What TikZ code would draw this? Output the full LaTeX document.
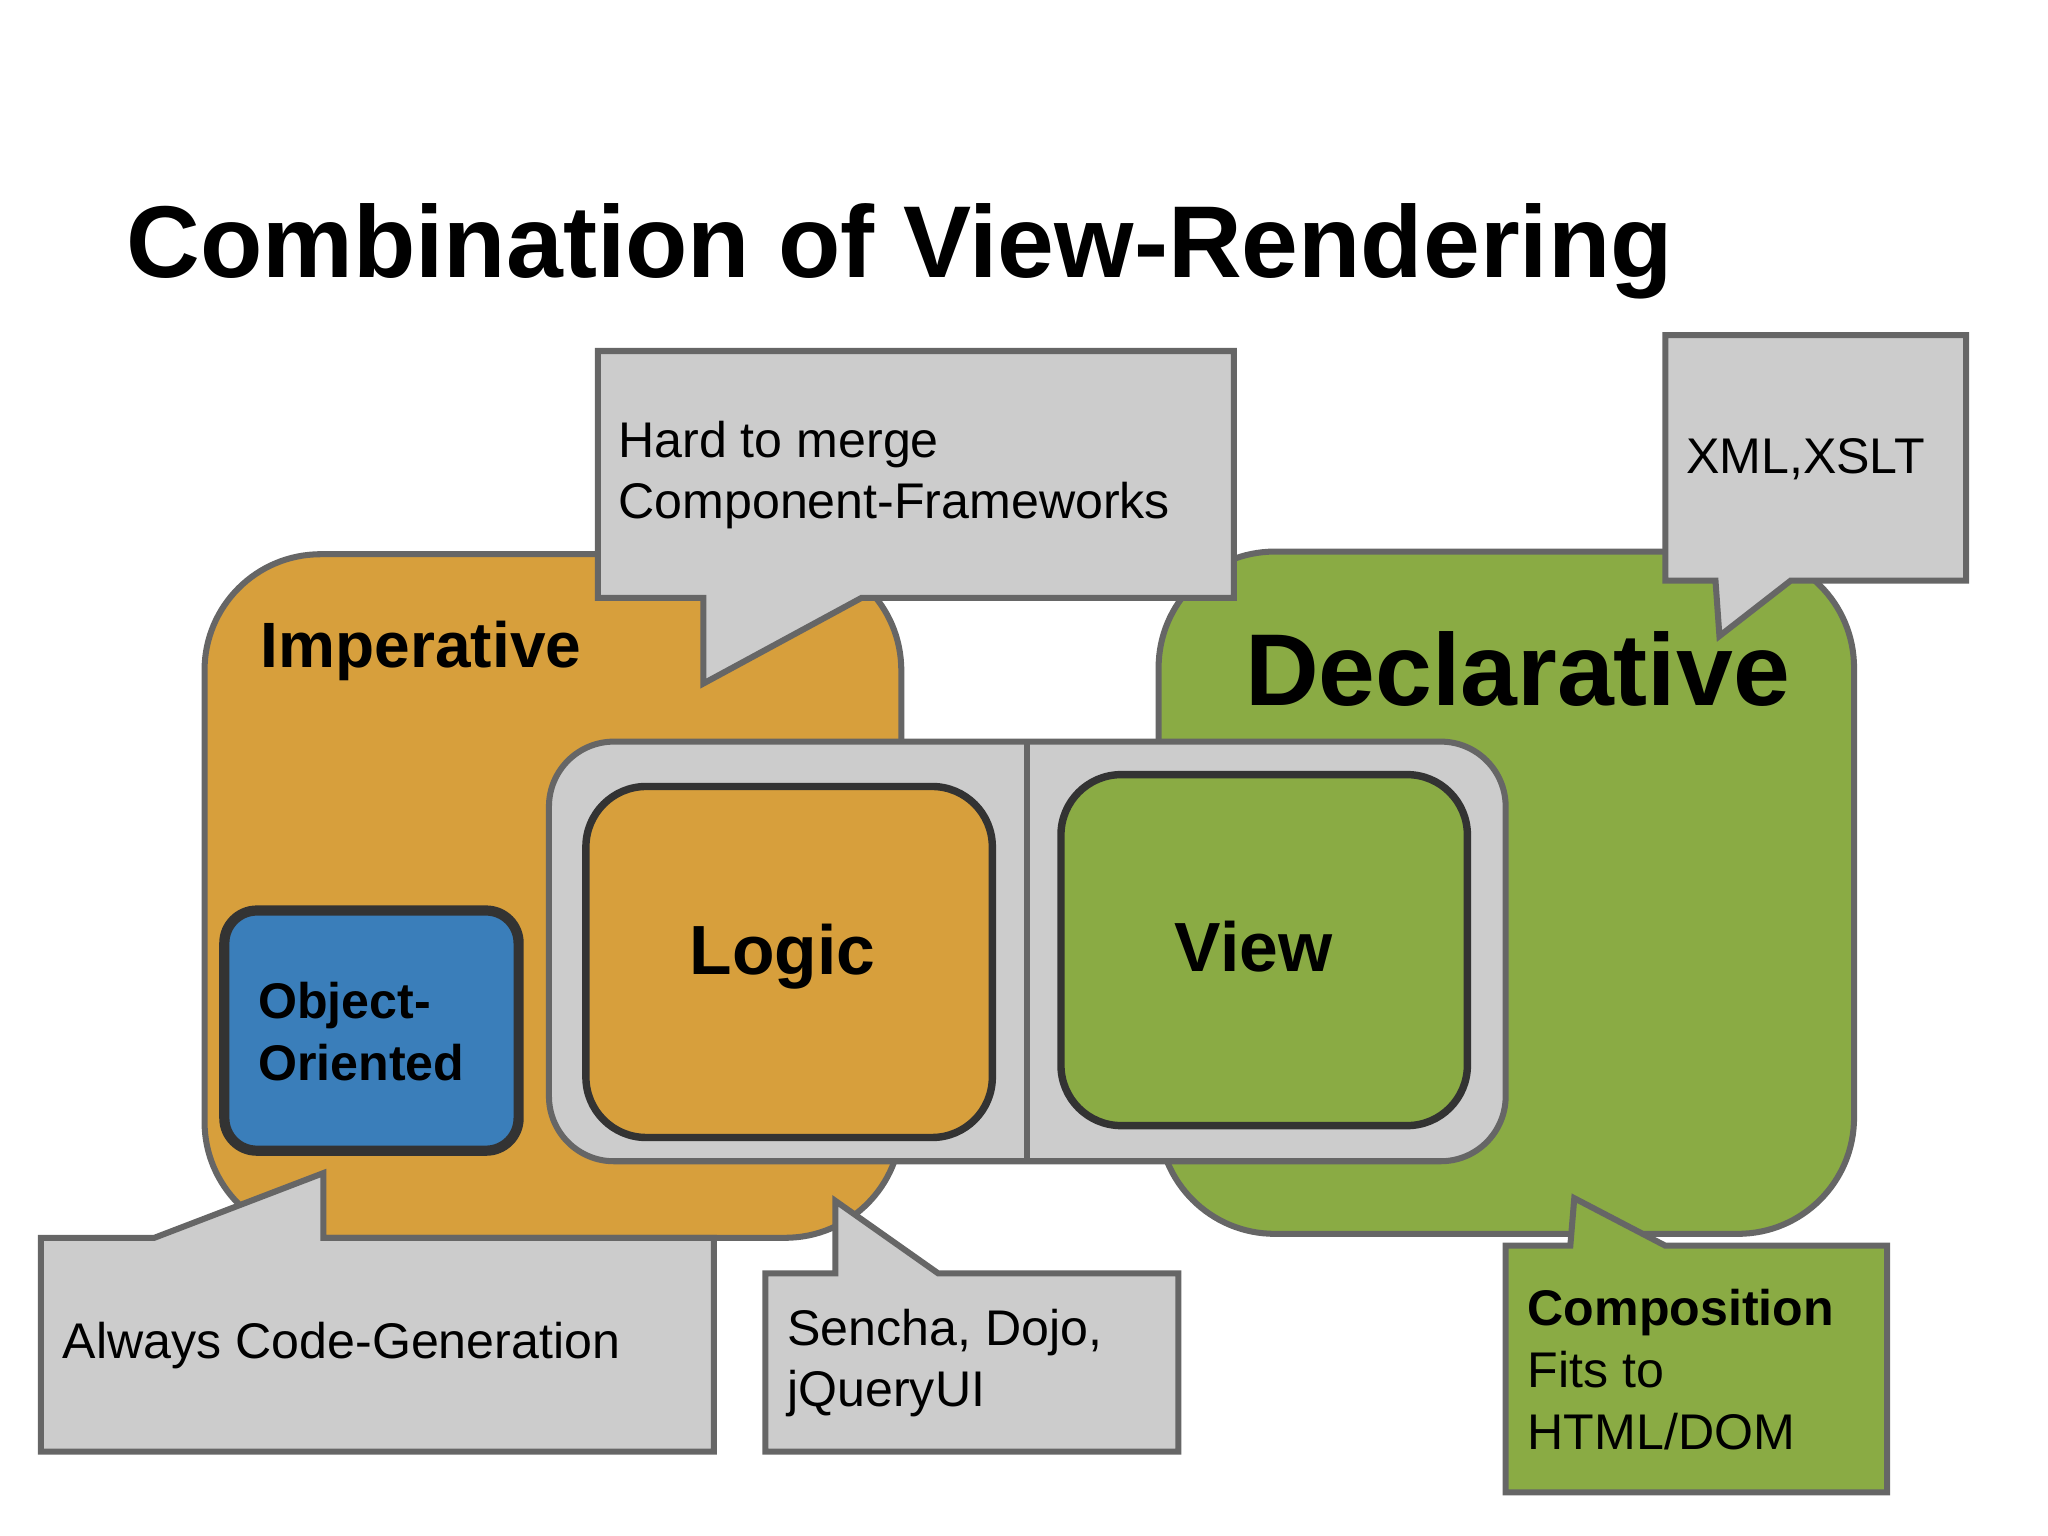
\documentclass[tikz,border=0pt]{standalone}
\usepackage{fontspec}
\setmainfont{Liberation Sans}
\begin{document}
\begin{tikzpicture}[x=0.01cm,y=-0.01cm,
  edge/.style={draw=black!60,line width=1.3pt},
  call/.style={edge,fill=black!20},
  txt/.style={anchor=west,inner sep=0,font=\fontsize{10.8}{13}\selectfont}]
\definecolor{or}{HTML}{D79F3C}
\definecolor{gr}{HTML}{8AAB44}
\definecolor{bl}{HTML}{3A7EBA}
\useasboundingbox (0,0) rectangle (1552,1164);
\node[anchor=base west,inner sep=0,font=\bfseries\fontsize{22}{26}\selectfont] (title) at (95,210) {Combination of View-Rendering};
% big boxes
\draw[edge,fill=or,rounded corners=25pt] (155,420) rectangle (683,938);
\draw[edge,fill=gr,rounded corners=25pt] (878,418) rectangle (1405,935);
% center container
\draw[edge,fill=black!20,rounded corners=14pt] (416,562) rectangle (1141,880);
\draw[edge] (778,562) -- (778,880);
\draw[draw=black!80,line width=1.6pt,fill=or,rounded corners=13pt] (444,596) rectangle (752,862);
\draw[draw=black!80,line width=1.6pt,fill=gr,rounded corners=13pt] (804,587) rectangle (1112,853);
\draw[draw=black!80,line width=2.2pt,fill=bl,rounded corners=7pt] (170,690) rectangle (393,872);
\node[font=\bfseries\fontsize{13.8}{16}\selectfont,anchor=west,inner sep=0] (imp) at (197,493) {Imperative};
\node[font=\bfseries\fontsize{22}{26}\selectfont,inner sep=0] (dec) at (1150,507) {Declarative};
\node[font=\bfseries\fontsize{15}{18}\selectfont,inner sep=0] (logic) at (593,725) {Logic};
\node[font=\bfseries\fontsize{15}{18}\selectfont,inner sep=0] (view) at (950,717) {View};
\node[anchor=west,inner sep=0,align=left,font=\bfseries\fontsize{10.8}{13.3}\selectfont] (oo) at (195,782) {Object-\\Oriented};
% callouts
\draw[call] (453,266) -- (935,266) -- (935,453) -- (653,453) -- (533,518) -- (533,453) -- (453,453) -- cycle;
\node[txt,align=left,font=\fontsize{10.8}{13.3}\selectfont] (c1) at (468,360) {Hard to merge\\Component-Frameworks};
\draw[call] (1262,254) -- (1490,254) -- (1490,440) -- (1357,440) -- (1303,482) -- (1300,440) -- (1262,440) -- cycle;
\node[txt] (c2) at (1277,348) {XML,XSLT};
\draw[call] (31,938) -- (117,938) -- (245,889) -- (245,938) -- (541,938) -- (541,1100) -- (31,1100) -- cycle;
\node[txt] (c3) at (47,1020) {Always Code-Generation};
\draw[call] (580,965) -- (633,965) -- (633,910) -- (711,965) -- (893,965) -- (893,1100) -- (580,1100) -- cycle;
\node[txt,align=left,font=\fontsize{10.8}{13.3}\selectfont] (c4) at (596,1033) {Sencha, Dojo,\\jQueryUI};
\draw[edge,fill=gr] (1141,944) -- (1190,944) -- (1193,908) -- (1262,944) -- (1430,944) -- (1430,1131) -- (1141,1131) -- cycle;
\node[txt,align=left,font=\fontsize{10.8}{13.3}\selectfont] (c5) at (1157,1038) {\textbf{Composition}\\Fits to\\HTML/DOM};
\end{tikzpicture}
\end{document}
